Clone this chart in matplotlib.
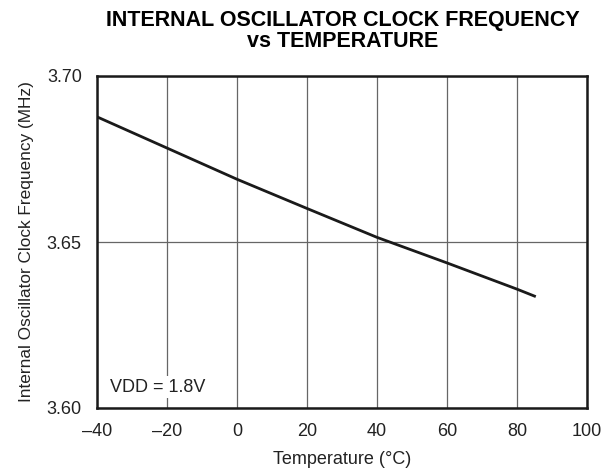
import matplotlib
matplotlib.use("Agg")
import matplotlib.pyplot as plt

plt.rcParams['font.family'] = ['Liberation Sans', 'DejaVu Sans']

# data
temp = [-40, -20, 0, 20, 40, 60, 80, 85]   # degC
freq = [3.6877, 3.6783, 3.6689, 3.6601, 3.6514, 3.6437, 3.6358, 3.6337]   # MHz

xticks = [-40, -20, 0, 20, 40, 60, 80, 100]
yticks = [3.60, 3.65, 3.70]

fig = plt.figure(figsize=(6.11, 4.72), dpi=100)
ax = fig.add_axes([97/611, 1 - 408/472, 490/611, 332/472])

ax.plot(temp, freq, color='#1a1a1a', lw=2.0, zorder=3)

ax.set_xlim(-40, 100)
ax.set_ylim(3.60, 3.70)
ax.set_xticks(xticks)
ax.set_xticklabels([str(t).replace('-', '\u2013') for t in xticks])
ax.set_yticks(yticks)
ax.set_yticklabels(['%.2f' % v for v in yticks])
ax.tick_params(length=0, labelsize=13, pad=11, colors='#222222')
ax.grid(True, color='#666666', lw=0.9)
for s in ax.spines.values():
    s.set_linewidth(1.8)
    s.set_color('#1a1a1a')
    s.set_zorder(4)

ax.text(-36.3, 3.6063, 'VDD = 1.8V', fontsize=13, va='center', ha='left', color='#222222',
        bbox=dict(facecolor='white', edgecolor='none', pad=2), zorder=5)

ax.set_xlabel('Temperature (\u00b0C)', fontsize=13, labelpad=8, color='#222222')
ax.set_ylabel('Internal Oscillator Clock Frequency (MHz)', fontsize=12.4, labelpad=9, color='#222222')
fig.text(343/611, 1 - 31/472, 'INTERNAL OSCILLATOR CLOCK FREQUENCY\nvs TEMPERATURE',
         ha='center', va='center', fontsize=15.5, fontweight='bold', linespacing=0.95)

fig.savefig('out.png', dpi=100)
